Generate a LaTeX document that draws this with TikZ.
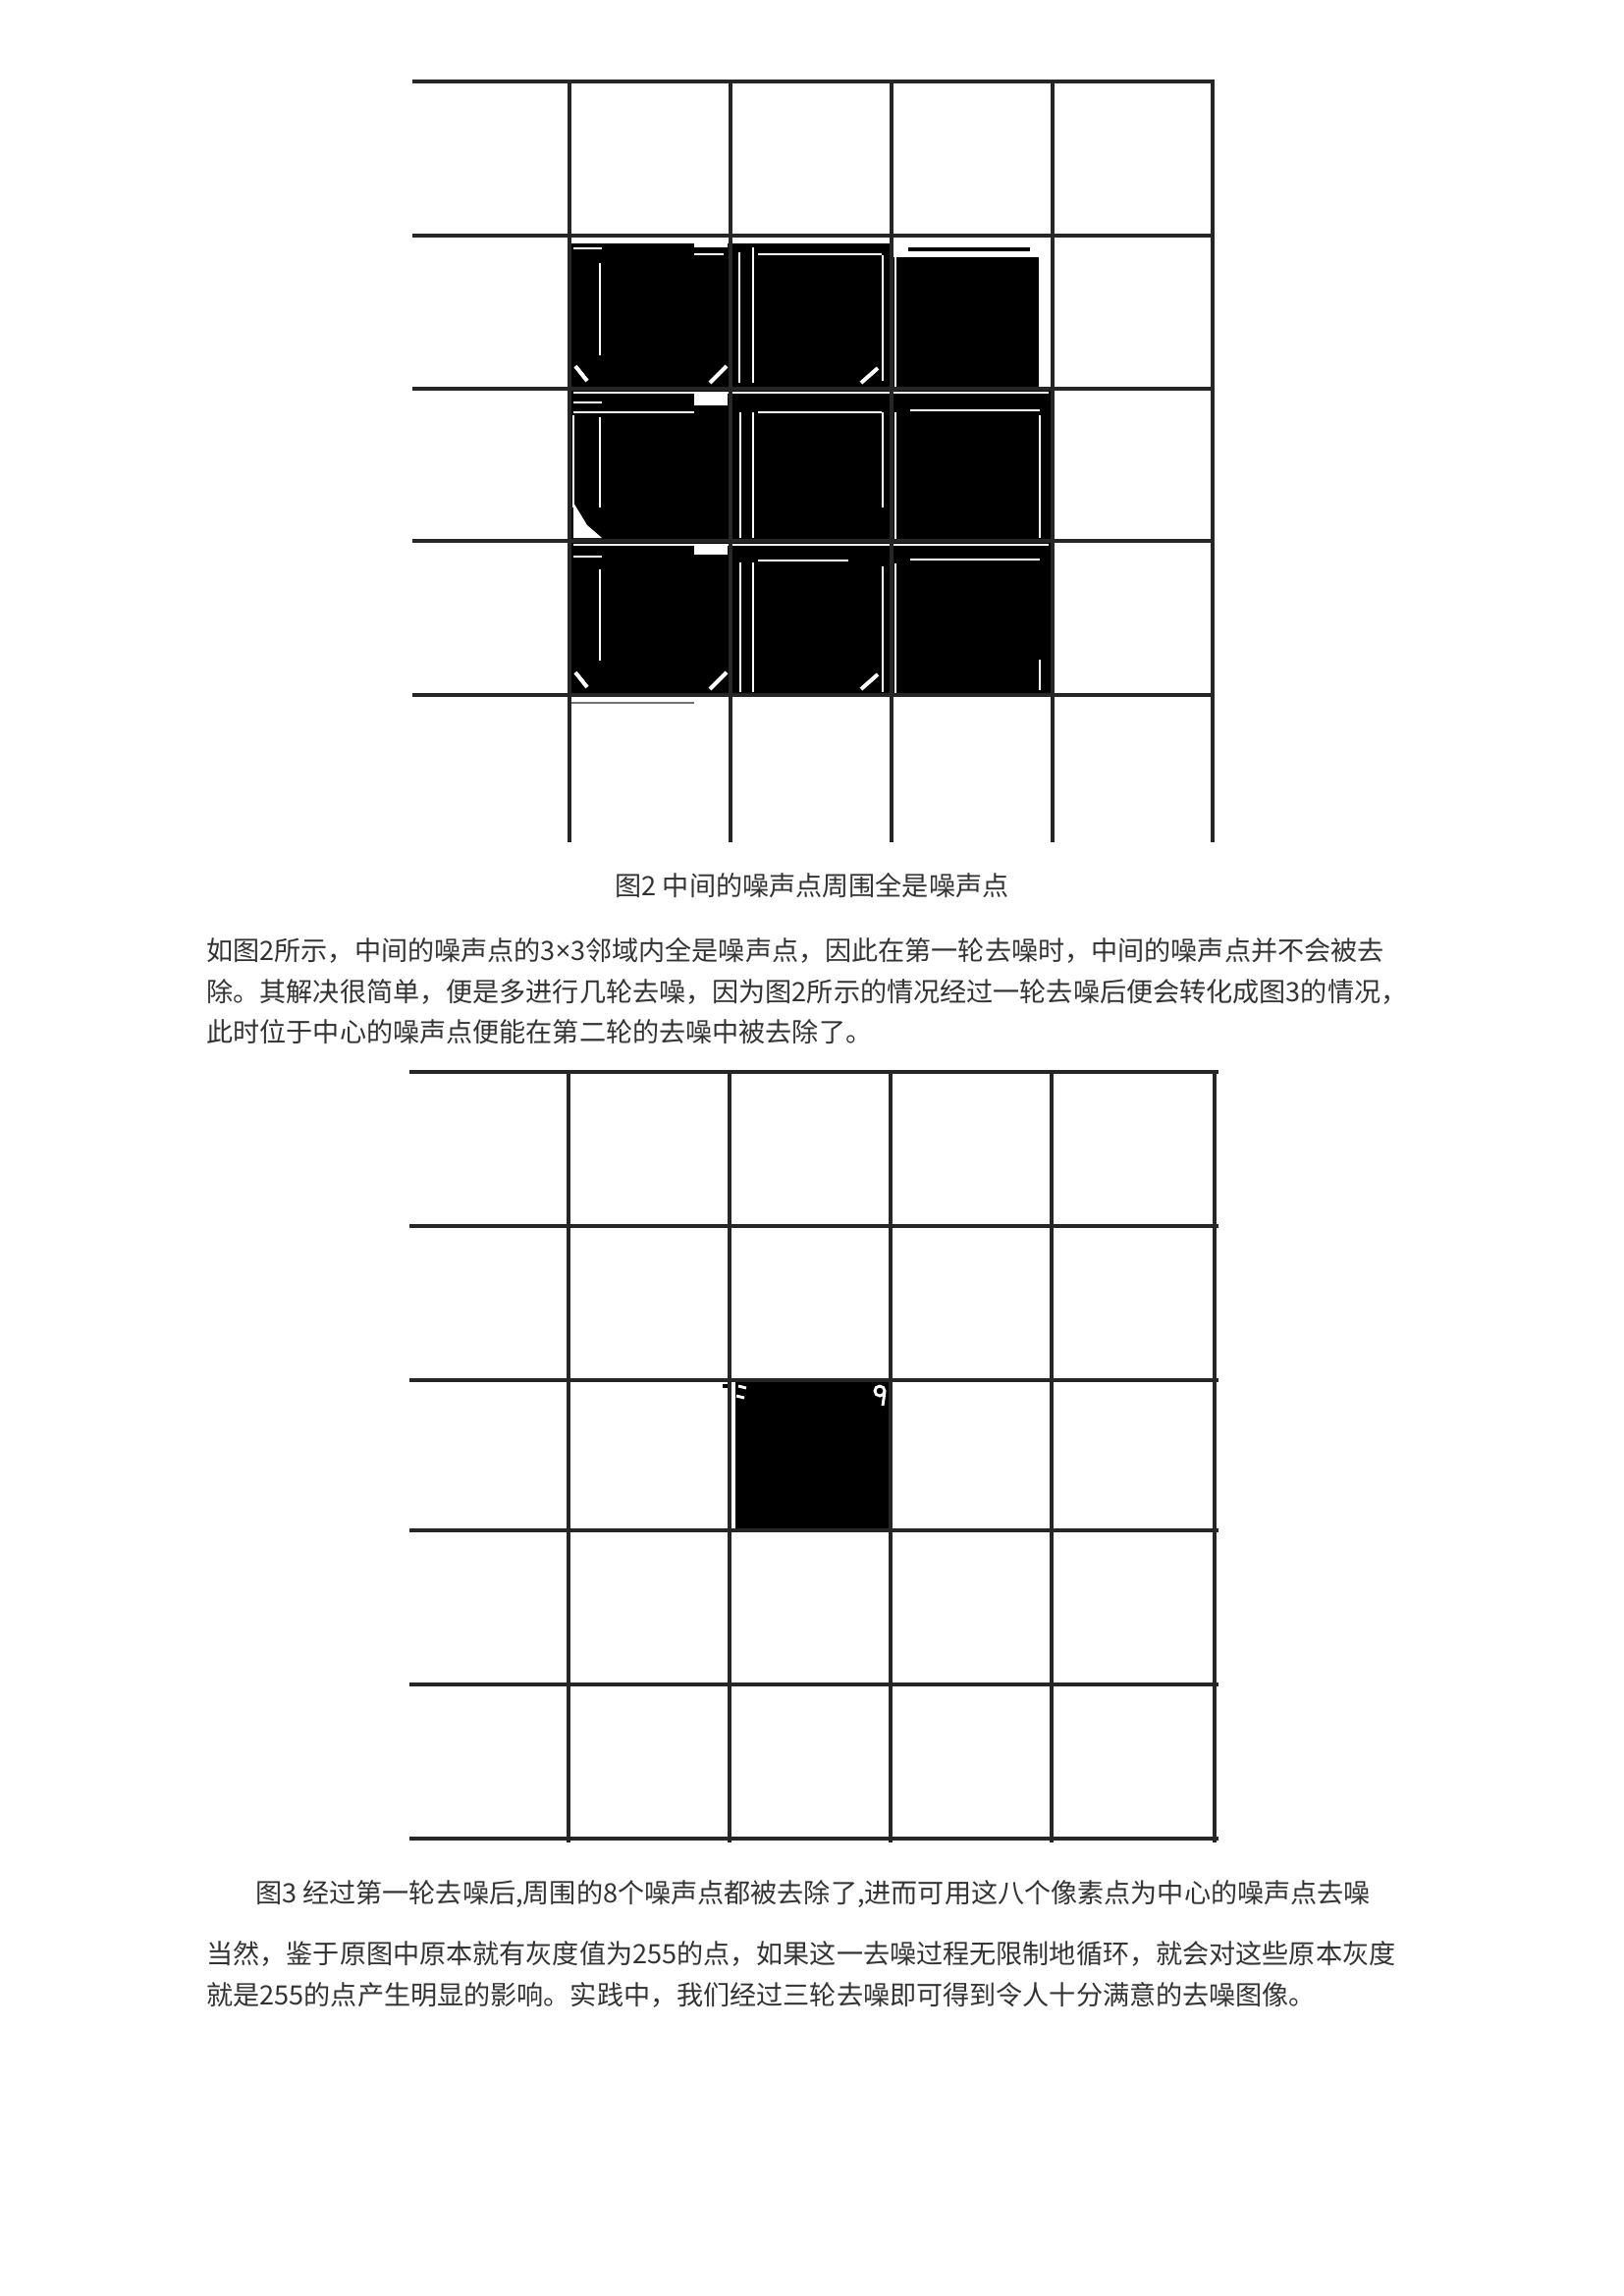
\documentclass[tikz,border=0pt]{standalone}
\usepackage{fontspec}
\setmainfont{Noto Sans CJK SC}
\newfontfamily\latinfont{Noto Sans}
\usetikzlibrary{calc}
\definecolor{txtgray}{RGB}{51,51,51}

\begin{document}
\begin{tikzpicture}[x=0.45pt,y=-0.45pt,
		gridline/.style={draw=black!85,line width=1.7pt},
		noise/.style={fill=black},
		scratch/.style={draw=white,line width=1.3pt},
		caption/.style={font=\fontsize{12.2pt}{14pt}\selectfont,text=txtgray,inner sep=0pt},
		para/.style={caption,anchor=west}
		]
		\useasboundingbox[fill=white] (0,0) rectangle (1653,2339);
		
		% figure 2: 3x3 noise block
		\fill[noise] (582,248) rectangle (908,708);
		\fill[noise] (908,262) rectangle (1058,396);
		\fill[noise] (925,252) rectangle (1049,256);
		\fill[noise] (908,396) rectangle (1072,708);
		% white traces left by the filter
		\foreach \x/\ya/\yb in {611/268/362,611/425/517,611/580/673,584/423/517,
			753/257/390,767/252/390,754/420/548,767/420/548,754/573/705,767/573/705,
			899/260/388,912/262/394,899/420/517,912/420/549,899/577/705,912/574/706,
			1059/423/548,1059/672/703}
		\draw[scratch] (\x,\ya) -- (\x,\yb);
		\foreach \y/\xa/\xb in {400/584/1068,420/584/707,420/772/898,418/927/1059,
			555/584/1068,567/584/613,571/772/864,570/927/1059,
			253/584/613,259/772/898,259/707/737,410/584/613}
		\draw[scratch] (\xa,\y) -- (\xb,\y);
		\fill[white] (707,242) rectangle (741,252);
		\fill[white] (707,400) rectangle (741,413);
		\fill[white] (707,555) rectangle (741,565);
		\fill[white] (584,512) -- (598,535) -- (613,548) -- (584,548) -- cycle;
		\foreach \b in {396,708}{
			\draw[scratch,line width=1.8pt] (586,\b-23) -- (598,\b-8);
			\draw[scratch,line width=1.8pt] (723,\b-6) -- (740,\b-23);
			\draw[scratch,line width=1.8pt] (877,\b-6) -- (894,\b-21);
		}
		\draw[draw=black!55,line width=1.3pt] (581,716) -- (707,716);
		% figure 2: grid
		\foreach \y in {83,240,396,551,708}
		\draw[gridline] (420,\y) -- (1237,\y);
		\foreach \x in {580,744,908,1072,1235}
		\draw[gridline] (\x,83) -- (\x,858);
		
		\node[caption](F2) at (827,902){图2 中间的噪声点周围全是噪声点};
		\node[para](L1) at (210,968){如图2所示，中间的噪声点的3{\latinfont ×}3邻域内全是噪声点，因此在第一轮去噪时，中间的噪声点并不会被去};
		\node[para](L2) at (210,1010){除。其解决很简单，便是多进行几轮去噪，因为图2所示的情况经过一轮去噪后便会转化成图3的情况，};
		\node[para](L3) at (210,1051){此时位于中心的噪声点便能在第二轮的去噪中被去除了。};
		
		% figure 3: one noise point left
		\fill[noise] (749,1407) rectangle (907,1558);
		\fill[noise] (736,1410) rectangle (745,1414);
		\draw[scratch] (752,1412) -- (760,1414);
		\draw[scratch] (750,1422) -- (758,1424);
		\draw[scratch] (896,1417) circle (5);
		\draw[scratch] (901,1418) -- (899,1432);
		\foreach \y in {1092,1249,1406,1559,1716,1873}
		\draw[gridline] (417,\y) -- (1241,\y);
		\foreach \x in {579,743,907,1071}
		\draw[gridline] (\x,1092) -- (\x,1877);
		\draw[gridline,line width=2.2pt] (1237,1092) -- (1237,1877);
		
		\node[caption](F3) at (828,1930){图3 经过第一轮去噪后,周围的8个噪声点都被去除了,进而可用这八个像素点为中心的噪声点去噪};
		\node[para](L4) at (210,1990){当然，鉴于原图中原本就有灰度值为255的点，如果这一去噪过程无限制地循环，就会对这些原本灰度};
		\node[para](L5) at (210,2032){就是255的点产生明显的影响。实践中，我们经过三轮去噪即可得到令人十分满意的去噪图像。};
	\end{tikzpicture}
\end{document}
